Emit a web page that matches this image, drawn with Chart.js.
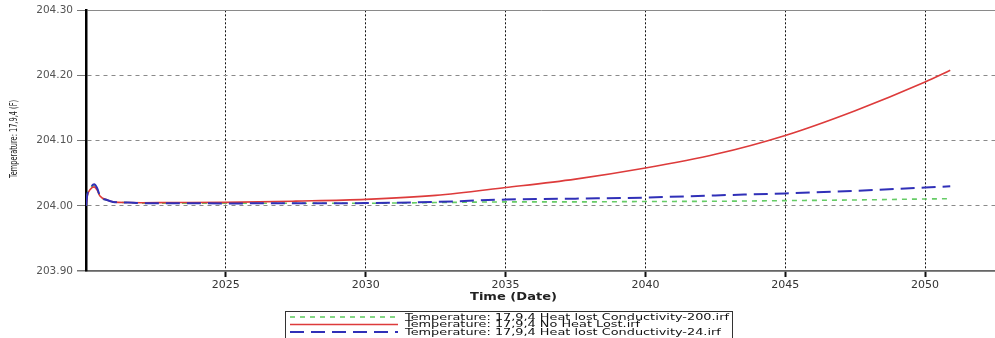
<!DOCTYPE html>
<html>
<head>
<meta charset="utf-8">
<script src="https://cdn.jsdelivr.net/npm/chart.js@4.4.1/dist/chart.umd.min.js"></script>
<style>
  body { margin: 0; background: #fff; }
  canvas { display: block; }
</style>
</head>
<body>
<canvas id="tempChart" width="995" height="338"></canvas>
<script>
// time axis (decimal years) shared by all three runs
const years = [2020.0, 2020.05, 2020.15, 2020.29, 2020.4, 2020.5, 2020.75, 2020.97, 2021.5, 2022, 2023,
               2025, 2027.5, 2030, 2032.5, 2035, 2037.5, 2040, 2042.5, 2045, 2047.5, 2050, 2050.9];

const heatLost200 = [204.000, 204.018, 204.027, 204.032, 204.026, 204.015, 204.009, 204.006, 204.005, 204.004, 204.004,
                     204.004, 204.004, 204.004, 204.005, 204.006, 204.006, 204.0066, 204.007, 204.008, 204.009, 204.0105, 204.011];
const noHeatLost = [204.000, 204.016, 204.025, 204.029, 204.024, 204.015, 204.009, 204.006, 204.005, 204.0048, 204.005,
                    204.0053, 204.0072, 204.0099, 204.016, 204.028, 204.041, 204.058, 204.079, 204.108, 204.146, 204.19, 204.208];
const heatLost24 = [204.000, 204.018, 204.027, 204.033, 204.027, 204.015, 204.009, 204.006, 204.005, 204.004, 204.004,
                    204.0037, 204.004, 204.0042, 204.006, 204.0096, 204.011, 204.0127, 204.016, 204.019, 204.023, 204.028, 204.030];

const legendLabels = [
    'Temperature: 17,9,4 Heat lost Conductivity-200.irf',
    'Temperature: 17,9,4 No Heat Lost.irf',
    'Temperature: 17,9,4 Heat lost Conductivity-24.irf'
];

const yTitle = 'Temperature: 17,9,4 (F)';
const xTitle = 'Time (Date)';

function toPoints(values) {
    return values.map((v, i) => ({ x: years[i], y: v }));
}

function isEdge(v) {
    return Math.abs(v - 204.3) < 1e-6 || Math.abs(v - 203.9) < 1e-6;
}

// text squeezed/stretched to a given width, the original fonts are odd widths
function fitText(ctx, text, x, y, width, angle) {
    const natural = ctx.measureText(text).width;
    ctx.save();
    ctx.translate(x, y);
    if (angle) ctx.rotate(angle);
    ctx.scale(width / natural, 1);
    ctx.fillText(text, 0, 0);
    ctx.restore();
}

// axis titles + legend box below the plot
const chartText = {
    id: 'chartText',
    afterDraw(chart) {
        const ctx = chart.ctx;
        ctx.save();
        ctx.textBaseline = 'middle';

        // y title, narrow font in the original
        ctx.font = '11px "DejaVu Sans Condensed", "Liberation Sans"';
        ctx.fillStyle = '#222';
        ctx.textAlign = 'center';
        fitText(ctx, yTitle, 14, 139, 78, -Math.PI / 2);

        ctx.font = 'bold 10.5px "DejaVu Sans"';
        ctx.textAlign = 'left';
        fitText(ctx, xTitle, 470, 297, 87);

        ctx.strokeStyle = '#333';
        ctx.lineWidth = 1;
        ctx.strokeRect(285.5, 311.5, 447, 30);

        ctx.font = '9px "DejaVu Sans"';
        const rows = [317, 324.5, 332];
        // longest label spans about 325 px in the original
        const widest = Math.max(...legendLabels.map(l => ctx.measureText(l).width));
        const stretch = 324 / widest;
        legendLabels.forEach((label, i) => {
            const ds = chart.data.datasets[i];
            const y = rows[i];
            ctx.strokeStyle = ds.borderColor;
            ctx.lineWidth = ds.borderWidth;
            ctx.setLineDash(ds.borderDash || []);
            ctx.beginPath();
            ctx.moveTo(290, y);
            ctx.lineTo(398, y);
            ctx.stroke();
            ctx.setLineDash([]);
            ctx.fillStyle = '#111';
            fitText(ctx, label, 405, y + 0.5, ctx.measureText(label).width * stretch);
        });
        ctx.restore();
    }
};

const ctx = document.getElementById('tempChart').getContext('2d');
new Chart(ctx, {
    type: 'line',
    data: {
        datasets: [
            {
                label: legendLabels[0],
                data: toPoints(heatLost200),
                borderColor: '#66cc66',
                borderWidth: 1.6,
                borderDash: [5, 5],
                pointRadius: 0,
                order: 2,
                cubicInterpolationMode: 'monotone'
            },
            {
                label: legendLabels[1],
                data: toPoints(noHeatLost),
                borderColor: '#dd3b3b',
                borderWidth: 1.6,
                pointRadius: 0,
                order: 1,
                cubicInterpolationMode: 'monotone'
            },
            {
                label: legendLabels[2],
                data: toPoints(heatLost24),
                borderColor: '#3030b8',
                borderWidth: 2,
                borderDash: [14, 7],
                pointRadius: 0,
                order: 0,
                cubicInterpolationMode: 'monotone'
            }
        ]
    },
    options: {
        responsive: false,
        animation: false,
        layout: { padding: { top: 10, right: 0, bottom: 0, left: 0 } },
        plugins: {
            legend: { display: false },
            tooltip: { enabled: false }
        },
        scales: {
            x: {
                type: 'linear',
                min: 2020,
                max: 2052.5,
                afterBuildTicks: scale => {
                    scale.ticks = scale.ticks.filter(t => t.value >= 2025 && t.value <= 2050);
                },
                afterFit: scale => { scale.height = 67; },
                ticks: {
                    stepSize: 5,
                    color: '#333',
                    padding: 2,
                    font: { family: 'DejaVu Sans', size: 11 },
                    callback: v => String(v)
                },
                grid: {
                    color: '#111',
                    lineWidth: 1,
                    tickColor: '#111',
                    tickLength: 6,
                    tickWidth: 2
                },
                border: { color: '#666', width: 1.5, dash: [2, 2] }
            },
            y: {
                min: 203.9,
                max: 204.3,
                afterFit: scale => { scale.width = 86; },
                ticks: {
                    stepSize: 0.1,
                    color: '#555',
                    padding: 4,
                    font: { family: 'DejaVu Sans', size: 10.5 },
                    callback: v => v.toFixed(2)
                },
                grid: {
                    color: c => (c.tick && Math.abs(c.tick.value - 203.9) < 1e-6) ? '#555' : '#8a8a8a',
                    lineWidth: c => (c.tick && Math.abs(c.tick.value - 203.9) < 1e-6) ? 1.5 : 1,
                    tickColor: '#777',
                    tickLength: 9
                },
                border: {
                    color: '#000',
                    width: 2.5,
                    dash: c => (c.tick && isEdge(c.tick.value)) ? [] : [4, 4]
                }
            }
        }
    },
    plugins: [chartText]
});
</script>
</body>
</html>
